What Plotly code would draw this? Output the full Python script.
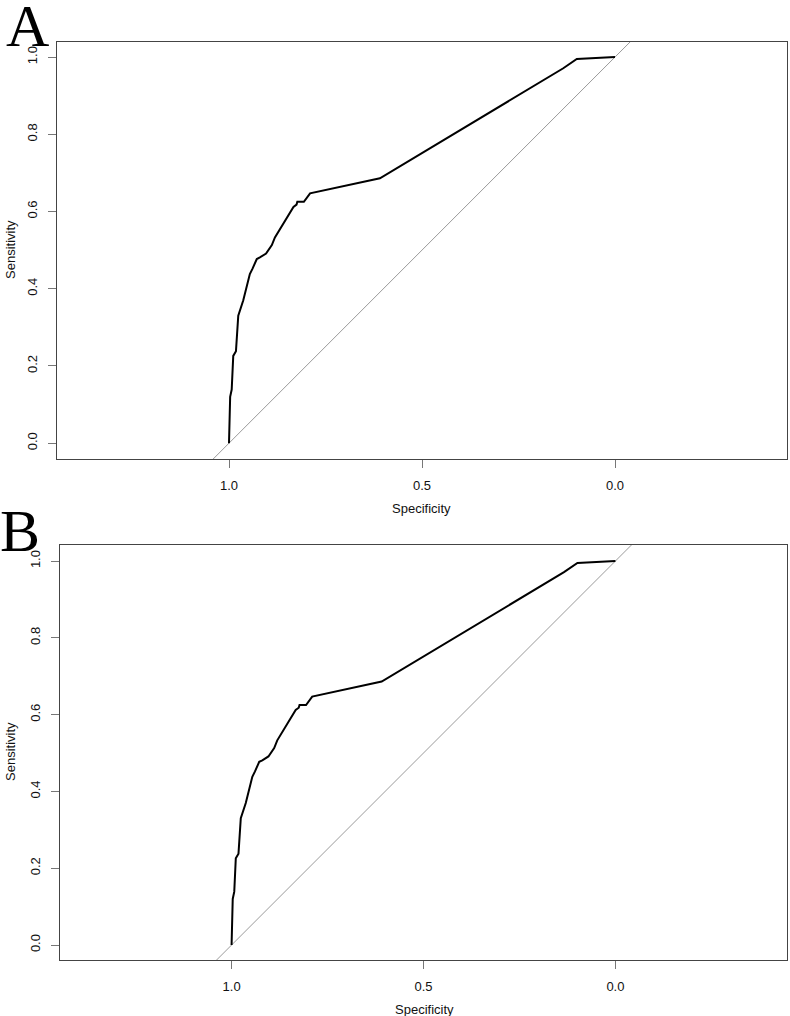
import plotly.graph_objects as go

# ROC curve (same curve shown in panels A and B)
specificity = [1.0, 0.997, 0.993, 0.989, 0.982, 0.976, 0.963, 0.954, 0.946, 0.939,
               0.928, 0.920, 0.904, 0.889, 0.881, 0.833, 0.825, 0.823, 0.806, 0.790,
               0.609, 0.134, 0.099, 0.0]
sensitivity = [0.0, 0.120, 0.139, 0.226, 0.238, 0.330, 0.370, 0.405, 0.438, 0.452,
               0.477, 0.481, 0.491, 0.513, 0.533, 0.612, 0.618, 0.625, 0.625, 0.647,
               0.686, 0.971, 0.995, 1.0]

diag_x = [1.6, -0.6]
diag_y = [-0.6, 1.6]

x_ticks = [1.0, 0.5, 0.0]
x_ticktext = ["1.0", "0.5", "0.0"]
y_ticks = [0.0, 0.2, 0.4, 0.6, 0.8, 1.0]
y_ticktext = ["0.0", "0.2", "0.4", "0.6", "0.8", "1.0"]

W, H = 790, 1016
FONT = "Liberation Sans, Arial, sans-serif"

panels = [
    dict(label="A", left=57, right=787, top=42, bottom=459,
         xr=[1.4456, -0.4456], yr=[-0.041, 1.039], lab_x=27, lab_y=26,
         ylab_y=250, xlab_x=422, xlab_y=508),
    dict(label="B", left=60, right=787, top=545, bottom=960,
         xr=[1.447, -0.447], yr=[-0.039, 1.0417], lab_x=20, lab_y=531,
         ylab_y=752, xlab_x=424, xlab_y=1009),
]

fig = go.Figure()
annotations = []
for i, p in enumerate(panels):
    sfx = "" if i == 0 else str(i + 1)
    xa, ya = "x" + sfx, "y" + sfx
    fig.add_trace(go.Scatter(x=diag_x, y=diag_y, mode="lines",
                             line=dict(color="#9a9a9a", width=1),
                             xaxis=xa, yaxis=ya, showlegend=False, hoverinfo="skip"))
    fig.add_trace(go.Scatter(x=specificity, y=sensitivity, mode="lines",
                             line=dict(color="black", width=2),
                             xaxis=xa, yaxis=ya, showlegend=False))
    xdom = [p["left"] / W, p["right"] / W]
    ydom = [1 - p["bottom"] / H, 1 - p["top"] / H]
    common = dict(showgrid=False, zeroline=False, showline=True, mirror=True,
                  linecolor="#444444", linewidth=1, ticks="outside", ticklen=8,
                  tickcolor="#777777", tickwidth=1,
                  tickfont=dict(family=FONT, size=13, color="#111111"))
    fig.update_layout(**{
        "xaxis" + sfx: dict(domain=xdom, range=p["xr"], tickvals=x_ticks,
                            ticktext=x_ticktext, anchor=ya, ticklabelstandoff=6,
                            **common),
        "yaxis" + sfx: dict(domain=ydom, range=p["yr"], tickvals=y_ticks,
                            ticktext=y_ticktext, anchor=xa, tickangle=-90,
                            ticklabelstandoff=6, **common),
    })
    annotations.append(dict(text=p["label"], x=p["lab_x"] / W, y=1 - p["lab_y"] / H,
                            xref="paper", yref="paper", showarrow=False,
                            xanchor="center", yanchor="middle",
                            font=dict(family="Liberation Serif, Times New Roman, serif",
                                      size=60, color="black")))
    annotations.append(dict(text="Sensitivity", x=10 / W, y=1 - p["ylab_y"] / H,
                            xref="paper", yref="paper", showarrow=False, textangle=-90,
                            xanchor="center", yanchor="middle",
                            font=dict(family=FONT, size=13, color="#111111")))
    annotations.append(dict(text="Specificity", x=p["xlab_x"] / W, y=1 - p["xlab_y"] / H,
                            xref="paper", yref="paper", showarrow=False,
                            xanchor="center", yanchor="middle",
                            font=dict(family=FONT, size=13, color="#111111")))

fig.update_layout(width=W, height=H, margin=dict(l=0, r=0, t=0, b=0),
                  paper_bgcolor="white", plot_bgcolor="white",
                  annotations=annotations)

fig.write_html("out.html")
